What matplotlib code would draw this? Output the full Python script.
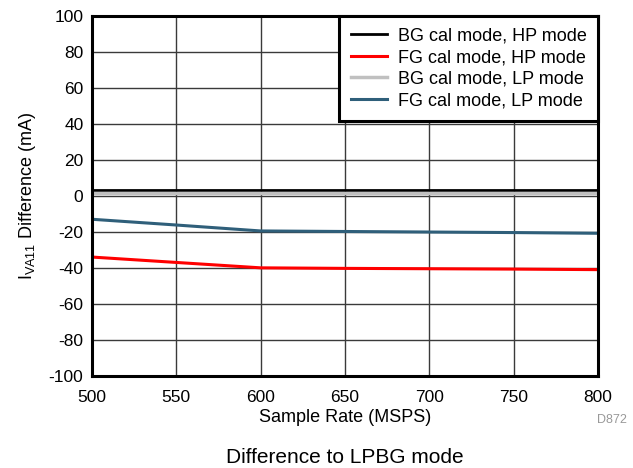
import matplotlib
matplotlib.use('Agg')
import matplotlib.pyplot as plt

rate = [500, 550, 600, 650, 700, 750, 800]
bg_hp = [3.3, 3.3, 3.3, 3.3, 3.3, 3.3, 3.3]
fg_hp = [-34, -37, -40, -40.3, -40.5, -40.7, -41]
bg_lp = [1.8, 1.8, 1.8, 1.8, 1.8, 1.8, 1.8]
fg_lp = [-13, -16.2, -19.5, -19.8, -20.1, -20.4, -20.8]

plt.rcParams['font.family'] = ['Liberation Sans', 'DejaVu Sans']
plt.rcParams['axes.unicode_minus'] = False
fig = plt.figure(figsize=(6.33, 4.68), dpi=100)
ax = fig.add_axes([0.145, 0.197, 0.8, 0.769])

ax.plot(rate, bg_hp, color='black', lw=2, label='BG cal mode, HP mode')
ax.plot(rate, fg_hp, color='#ff0000', lw=2.2, label='FG cal mode, HP mode')
ax.plot(rate, bg_lp, color='#c0c0c0', lw=2.5, label='BG cal mode, LP mode')
ax.plot(rate, fg_lp, color='#2f5f7a', lw=2.2, label='FG cal mode, LP mode')

ax.set_xlim(500, 800)
ax.set_ylim(-100, 100)
ax.set_xticks(range(500, 801, 50))
ax.set_yticks(range(-100, 101, 20))
ax.grid(True, color='#3a3a3a', lw=1)
ax.set_axisbelow(True)
for s in ax.spines.values():
    s.set_linewidth(2.2)
ax.tick_params(labelsize=12.5, length=0)
ax.tick_params(axis='x', pad=10)
ax.tick_params(axis='y', pad=6)
ax.set_xlabel('Sample Rate (MSPS)', fontsize=13, labelpad=3)
ax.set_ylabel('I$_{\\mathregular{VA11}}$ Difference (mA)', fontsize=13, labelpad=8)

leg = ax.legend(loc='upper right', fontsize=13, fancybox=False, framealpha=1,
                edgecolor='black', borderaxespad=0, handlelength=2.0,
                labelspacing=0.25, borderpad=0.65, handletextpad=0.6)
leg.get_frame().set_linewidth(2.2)

fig.text(0.99, 0.103, 'D872', fontsize=9, color='#999999', ha='right', va='center')
fig.text(0.545, 0.01, 'Difference to LPBG mode', fontsize=15, ha='center')

fig.savefig('out.png', dpi=100)
